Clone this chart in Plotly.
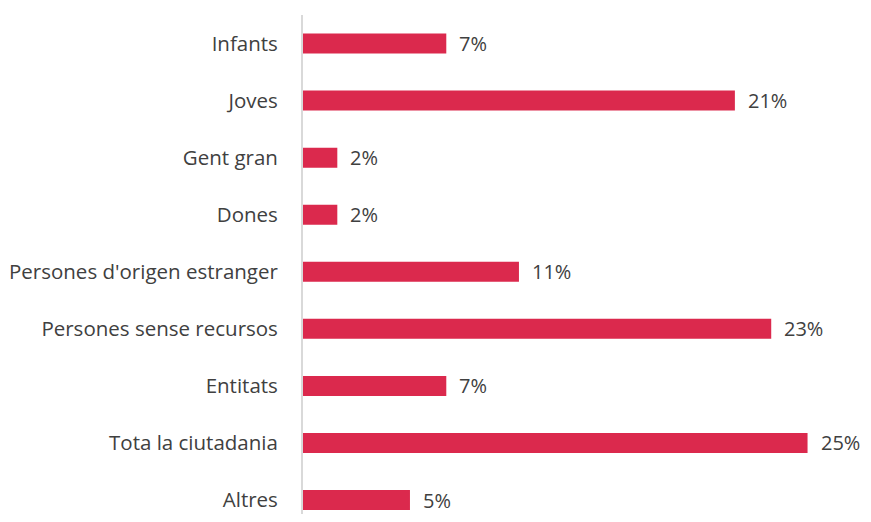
import plotly.graph_objects as go

categories = ["Infants", "Joves", "Gent gran", "Dones", "Persones d'origen estranger",
              "Persones sense recursos", "Entitats", "Tota la ciutadania", "Altres"]
values = [7.1, 21.4, 1.7, 1.7, 10.7, 23.2, 7.1, 25.0, 5.3]
labels = ["7%", "21%", "2%", "2%", "11%", "23%", "7%", "25%", "5%"]

BAR = "#DB294D"
TXT = "#404040"
FONT = "Open Sans"

fig = go.Figure()
fig.add_trace(go.Bar(
    y=categories, x=values, orientation="h",
    marker=dict(color=BAR, line=dict(width=0)),
    hoverinfo="skip",
))
for c, v, t in zip(categories, values, labels):
    fig.add_annotation(x=v, y=c, text=t, showarrow=False, xanchor="left",
                       xshift=12, borderpad=0,
                       font=dict(family=FONT, size=20, color=TXT))

fig.update_layout(
    width=855, height=506,
    margin=dict(l=295, r=5, t=7, b=0, autoexpand=False),
    paper_bgcolor="white", plot_bgcolor="white",
    bargap=0.65, showlegend=False,
    font=dict(family=FONT, size=20.5, color=TXT),
)
fig.update_xaxes(range=[0, 27.5], visible=False, showgrid=False, zeroline=False,
                 automargin=False)
fig.update_yaxes(
    categoryorder="array", categoryarray=categories,
    range=[8.245, -0.5], automargin=False,
    showline=True, linecolor="#D9D9D9", linewidth=2,
    showgrid=False, zeroline=False, ticks="", ticklabelstandoff=19,
    tickfont=dict(family=FONT, size=20.5, color=TXT),
)
fig.write_html("out.html")
